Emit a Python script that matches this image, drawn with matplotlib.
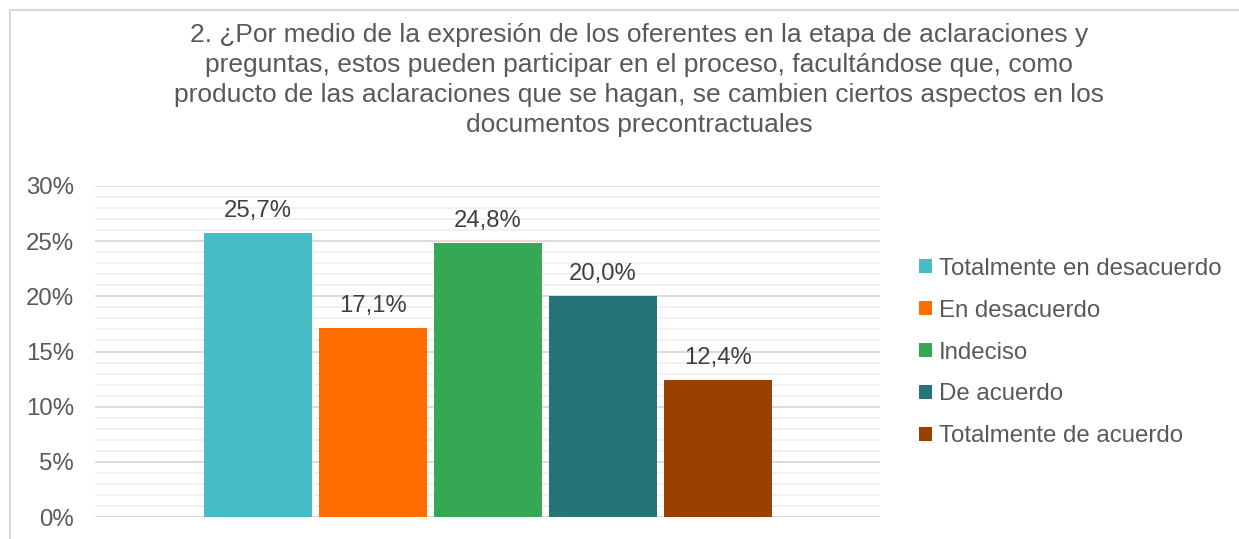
import matplotlib
matplotlib.use("Agg")
import matplotlib.pyplot as plt
from matplotlib.lines import Line2D
from matplotlib.patches import Patch
from matplotlib.ticker import MultipleLocator, FuncFormatter

categories = ["Totalmente en desacuerdo", "En desacuerdo", "Indeciso",
              "De acuerdo", "Totalmente de acuerdo"]
values = [25.7, 17.1, 24.8, 20.0, 12.4]
colors = ["#46BCC6", "#FF6C00", "#35A853", "#267478", "#9B4100"]
title = ("2. ¿Por medio de la expresión de los oferentes en la etapa de aclaraciones y\n"
         "preguntas, estos pueden participar en el proceso, facultándose que, como\n"
         "producto de las aclaraciones que se hagan, se cambien ciertos aspectos en los\n"
         "documentos precontractuales")

plt.rcParams['font.family'] = ['Liberation Sans', 'DejaVu Sans']

fig = plt.figure(figsize=(12.39, 5.39), dpi=100)
ax = fig.add_axes([95/1239, 22/539, 785/1239, (517-186)/539])

xs = list(range(len(values)))
bars = ax.bar(xs, values, width=0.94, color=colors, zorder=3)
for x, v in zip(xs, values):
    ax.annotate(f"{v:.1f}%".replace(".", ","), (x, v), xytext=(0, 8),
                textcoords="offset points", ha="center", va="bottom",
                fontsize=17.2, color="#404040")

ax.set_xlim(-1.417, 5.409)
ax.set_ylim(0, 30)
ax.yaxis.set_major_locator(MultipleLocator(5))
ax.yaxis.set_minor_locator(MultipleLocator(1))
ax.yaxis.set_major_formatter(FuncFormatter(lambda v, p: f"{v:.0f}%"))
ax.grid(axis="y", which="major", color="#D9D9D9", linewidth=1.3, zorder=0)
ax.grid(axis="y", which="minor", color="#F0F0F0", linewidth=1.3, zorder=0)
ax.set_axisbelow(True)
for s in ax.spines.values():
    s.set_visible(False)
ax.set_xticks([])
ax.tick_params(axis="y", which="both", length=0, labelsize=17.3,
               labelcolor="#595959", pad=15)

fig.text(0.516, 1 - 23/539, title, ha="center", va="top", fontsize=19,
         color="#595959", linespacing=1.32)

handles = [Patch(facecolor=c, edgecolor="none") for c in colors]
fig.legend(handles, categories, loc="upper left",
           bbox_to_anchor=(897/1239, 1 - 236/539), frameon=False,
           fontsize=17.3, labelcolor="#595959", handlelength=0.55,
           handleheight=0.55, handletextpad=0.3, labelspacing=0.83,
           borderpad=0.4)

# chart border (top and left visible)
fig.add_artist(Line2D([10/1239, 10/1239], [0, 1 - 10/539],
                      transform=fig.transFigure, color="#D9D9D9", linewidth=1.5))
fig.add_artist(Line2D([10/1239, 1], [1 - 10/539, 1 - 10/539],
                      transform=fig.transFigure, color="#D9D9D9", linewidth=1.5))

fig.savefig("out.png", dpi=100, facecolor="white")
